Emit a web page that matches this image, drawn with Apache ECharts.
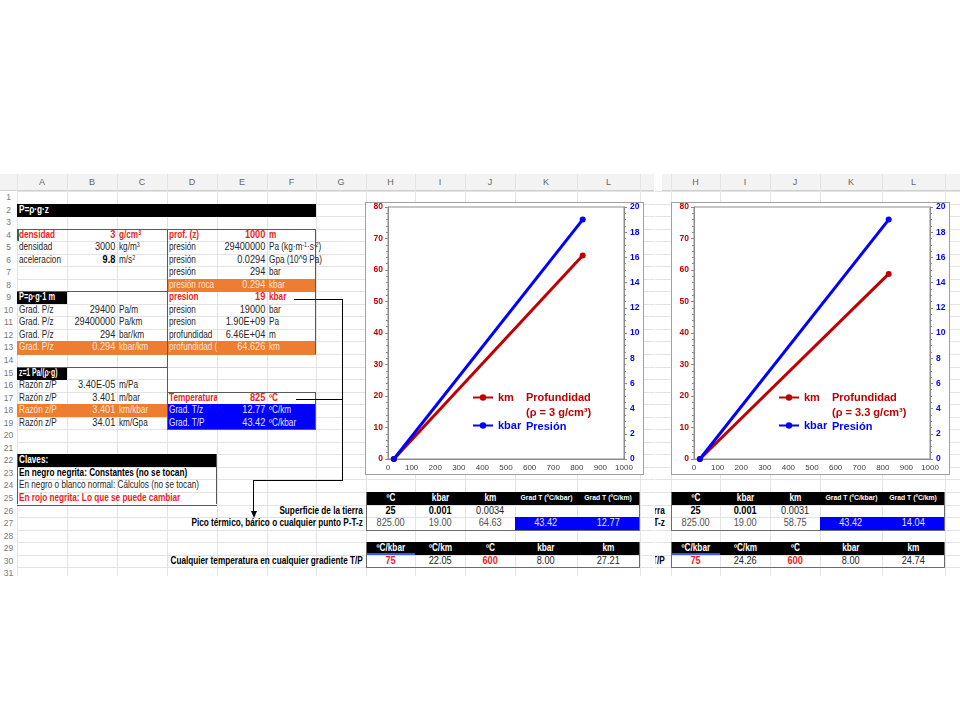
<!DOCTYPE html>
<html><head><meta charset="utf-8">
<script src="https://cdn.jsdelivr.net/npm/echarts@6/dist/echarts.min.js"></script>
<style>
html,body{margin:0;padding:0;background:#fff;width:960px;height:720px;overflow:hidden;}
.sheet{position:absolute;top:174px;height:402px;overflow:hidden;background:#fff;
 font-family:"Liberation Sans",Arial,sans-serif;}
.sheet div{box-sizing:border-box;white-space:nowrap;}
.chart{position:absolute;top:202px;width:279px;height:273px;box-sizing:border-box;border:1px solid #a0a0a0;background:#fff;}
sup{font-size:6.5px;vertical-align:top;line-height:8px;}
</style></head>
<body>
<div id="sheetL" class="sheet" style="left:0;width:654px;"></div>
<div id="sheetR" class="sheet" style="left:655px;width:305px;"></div>
<div id="chartL" class="chart" style="left:365px;"></div>
<div id="chartR" class="chart" style="left:671px;"></div>
<script>
// ---------- chart data ----------
const temperatureC = [25, 825];
const pressureKbar = [0.001, 19.00];
const depthKmRho3 = [0.0034, 64.63];
const depthKmRho33 = [0.0031, 58.75];

// ---------- table data ----------
const head25 = ['ºC', 'kbar', 'km', 'Grad T (ºC/kbar)', 'Grad T (ºC/km)'];
const head29 = ['ºC/kbar', 'ºC/km', 'ºC', 'kbar', 'km'];
const surfaceL = ['25', '0.001', '0.0034'];
const surfaceR = ['25', '0.001', '0.0031'];
const peakL = ['825.00', '19.00', '64.63', '43.42', '12.77'];
const peakR = ['825.00', '19.00', '58.75', '43.42', '14.04'];
const anyL = ['75', '22.05', '600', '8.00', '27.21'];
const anyR = ['75', '24.26', '600', '8.00', '24.74'];

// ---------- geometry ----------
const HDR = 174, ROW0 = 191, RH = 12.54, BOTTOM = 576;
const colEdges = [0, 17, 67, 117, 167, 217, 267, 316, 366, 415, 465, 515, 577, 640, 690, 740];
const colNames = ['', 'A', 'B', 'C', 'D', 'E', 'F', 'G', 'H', 'I', 'J', 'K', 'L', 'M', 'N'];
const rowTop = r => ROW0 + (r - 1) * RH;
const RED = '#EE1C25', ORANGE = '#ED7D31', BLUE = '#0000FF', PALE = '#FCE4D6', LIGHT = '#E4E4FF', TXT = '#262626';
const SQ = 0.82, SQN = 0.92, FS = 10; // narrow spreadsheet font imitation

function buildSheet(el, shift, pageLeft, hdrStart, labelPad, cells, fills, lines) {
  const add = (x, y, w, h, css, html) => {
    const d = document.createElement('div');
    d.style.cssText = `position:absolute;left:${x - pageLeft}px;top:${y - HDR}px;width:${w}px;height:${h}px;` + css;
    if (html != null) d.innerHTML = html;
    el.appendChild(d);
    return d;
  };
  const X = c => colEdges[c] + shift;
  add(hdrStart, HDR, 1400, ROW0 - HDR, 'background:#f3f3f3;border-bottom:1px solid #d0d0d0;');
  for (let c = 1; c < colEdges.length; c++) add(X(c), HDR, 1, BOTTOM - HDR, 'background:#e3e3e3;');
  for (let r = 1; r <= 32; r++) add(X(1), rowTop(r), 1400, 1, 'background:#e3e3e3;');
  for (let c = 1; c < colNames.length; c++) {
    add(X(c), HDR, X(c + 1) - X(c), ROW0 - HDR, 'text-align:center;color:#666;font-size:9px;line-height:17px;', colNames[c]);
  }
  for (let r = 1; r <= 31; r++) {
    add(X(0), rowTop(r), 17, RH, 'text-align:center;color:#777;font-size:8.5px;line-height:12.5px;', String(r));
  }
  fills.forEach(f => {
    add(X(f[1]), rowTop(f[0]), X(f[3] + 1) - X(f[1]), rowTop(f[2] + 1) - rowTop(f[0]) + 0.5, 'background:' + f[4] + ';');
  });
  lines.forEach(l => {
    const w = l[5] || 1;
    if (l[0] === 'h') add(l[1] + shift, l[3], l[2] - l[1], w, 'background:' + l[4] + ';');
    else add(l[1] + shift, l[2], w, l[3] - l[2], 'background:' + l[4] + ';');
  });
  cells.forEach(cl => {
    const [r, c, html, o] = cl;
    const op = o || {};
    const span = op.span || 1;
    const x0 = X(c), x1 = X(c + span);
    let align = op.a || 'left';
    let padR = 2, padL = 2;
    let bx0 = x0, bx1 = x1;
    if (op.ovl) { bx0 = x1 - 400; align = 'right'; padR = labelPad; }
    const numeric = /^[\d.,E+\-]+$/.test(html);
    const sq = op.sq || (numeric ? SQN : SQ);
    const bw = bx1 - bx0;
    const uw = bw / sq;
    let left, origin;
    if (align === 'right') { left = bx1 - uw; origin = 'right'; }
    else if (align === 'center') { left = (bx0 + bx1) / 2 - uw / 2; origin = 'center'; }
    else { left = bx0; origin = 'left'; }
    const css = `text-align:${align};padding:0 ${padR / sq}px 0 ${padL / sq}px;font-size:${op.fs || FS}px;line-height:${RH}px;` +
      `color:${op.col || TXT};font-weight:${op.b ? 'bold' : 'normal'};` +
      `transform:scaleX(${sq});transform-origin:${origin} center;` + (op.clip ? 'overflow:hidden;' : '');
    add(left, rowTop(r), uw, RH, css, html);
  });
}

function tableCells(surface, peak, any) {
  const out = [];
  head25.forEach((t, i) => out.push([25, 8 + i, t, { a: 'center', b: true, col: '#fff', fs: i > 2 ? 8 : FS, sq: i > 2 ? 0.85 : SQ }]));
  out.push([26, 7, 'Superficie de la tierra', { ovl: true, b: true, col: '#000' }]);
  surface.forEach((t, i) => out.push([26, 8 + i, t, { a: 'center', b: i < 2, col: i < 2 ? '#000' : TXT }]));
  out.push([27, 7, 'Pico térmico, bárico o cualquier punto P-T-z', { ovl: true, b: true, col: '#000' }]);
  peak.forEach((t, i) => out.push([27, 8 + i, t, { a: 'center', col: i > 2 ? LIGHT : '#505050' }]));
  head29.forEach((t, i) => out.push([29, 8 + i, t, { a: 'center', b: true, col: '#fff' }]));
  out.push([30, 7, 'Cualquier temperatura en cualquier gradiente T/P', { ovl: true, b: true, col: '#000' }]);
  any.forEach((t, i) => out.push([30, 8 + i, t, { a: 'center', b: (i === 0 || i === 2), col: (i === 0 || i === 2) ? RED : TXT }]));
  return out;
}
const tableFills = [[25, 8, 25, 12, '#000'], [27, 11, 27, 12, BLUE], [29, 8, 29, 12, '#000']];
const tableLines = [
  ['h', 366, 640, rowTop(28), '#6b6b6b'], ['v', 366, rowTop(25), rowTop(28), '#6b6b6b'], ['v', 639, rowTop(25), rowTop(28), '#6b6b6b'],
  ['h', 366, 640, rowTop(31), '#6b6b6b'], ['v', 366, rowTop(29), rowTop(31), '#6b6b6b'], ['v', 639, rowTop(29), rowTop(31), '#6b6b6b'],
  ['h', 367, 415, rowTop(30) - 1.5, '#3355ff', 1.5]
];

// ---------- left sheet content ----------
const R = { col: RED, b: true };
const RR = { col: RED, b: true, a: 'right' };
const P = { col: PALE }, PR = { col: PALE, a: 'right' };
const Lt = { col: LIGHT }, LtR = { col: LIGHT, a: 'right' };
const W = { col: '#fff', b: true };
const Rt = { a: 'right' };
const leftCells = [
  [2, 1, 'P=ρ·g·z', W],
  [4, 1, 'densidad', R], [4, 2, '3', RR], [4, 3, 'g/cm<sup>3</sup>', R], [4, 4, 'prof. (z)', R], [4, 5, '1000', RR], [4, 6, 'm', R],
  [5, 1, 'densidad'], [5, 2, '3000', Rt], [5, 3, 'kg/m<sup>3</sup>'], [5, 4, 'presión'], [5, 5, '29400000', Rt], [5, 6, 'Pa (kg·m<sup>-1</sup>·s<sup>-2</sup>)'],
  [6, 1, 'aceleracion'], [6, 2, '9.8', { a: 'right', b: true, col: '#000' }], [6, 3, 'm/s<sup>2</sup>'], [6, 4, 'presión'], [6, 5, '0.0294', Rt], [6, 6, 'Gpa (10^9 Pa)'],
  [7, 4, 'presión'], [7, 5, '294', Rt], [7, 6, 'bar'],
  [8, 4, 'presión roca', P], [8, 5, '0.294', PR], [8, 6, 'kbar', P],
  [9, 1, 'P=ρ·g·1 m', Object.assign({ sq: 0.74 }, W)], [9, 4, 'presion', R], [9, 5, '19', RR], [9, 6, 'kbar', R],
  [10, 1, 'Grad. P/z'], [10, 2, '29400', Rt], [10, 3, 'Pa/m'], [10, 4, 'presion'], [10, 5, '19000', Rt], [10, 6, 'bar'],
  [11, 1, 'Grad. P/z'], [11, 2, '29400000', Rt], [11, 3, 'Pa/km'], [11, 4, 'presion'], [11, 5, '1.90E+09', Rt], [11, 6, 'Pa'],
  [12, 1, 'Grad. P/z'], [12, 2, '294', Rt], [12, 3, 'bar/km'], [12, 4, 'profundidad'], [12, 5, '6.46E+04', Rt], [12, 6, 'm'],
  [13, 1, 'Grad. P/z', P], [13, 2, '0.294', PR], [13, 3, 'kbar/km', P], [13, 4, 'profundidad (km)', { col: PALE, clip: true }], [13, 5, '64.626', PR], [13, 6, 'km', P],
  [15, 1, 'z=1 Pa/(ρ·g)', Object.assign({ sq: 0.68 }, W)],
  [16, 1, 'Razón z/P'], [16, 2, '3.40E-05', Rt], [16, 3, 'm/Pa'],
  [17, 1, 'Razón z/P'], [17, 2, '3.401', Rt], [17, 3, 'm/bar'], [17, 4, 'Temperatura (ºC)', { col: RED, b: true, clip: true }], [17, 5, '825', RR], [17, 6, 'ºC', R],
  [18, 1, 'Razón z/P', P], [18, 2, '3.401', PR], [18, 3, 'km/kbar', P], [18, 4, 'Grad. T/z', Lt], [18, 5, '12.77', LtR], [18, 6, 'ºC/km', Lt],
  [19, 1, 'Razón z/P'], [19, 2, '34.01', Rt], [19, 3, 'km/Gpa'], [19, 4, 'Grad. T/P', Lt], [19, 5, '43.42', LtR], [19, 6, 'ºC/kbar', Lt],
  [22, 1, 'Claves:', W],
  [23, 1, 'En negro negrita: Constantes (no se tocan)', { b: true, col: '#000' }],
  [24, 1, 'En negro o blanco normal: Cálculos (no se tocan)'],
  [25, 1, 'En rojo negrita: Lo que se puede cambiar', { b: true, col: RED }]
].concat(tableCells(surfaceL, peakL, anyL));

const leftFills = [
  [2, 1, 2, 6, '#000'], [8, 4, 8, 6, ORANGE], [9, 1, 9, 1, '#000'], [13, 1, 13, 6, ORANGE], [15, 1, 15, 1, '#000'],
  [18, 1, 18, 3, ORANGE], [18, 4, 19, 6, BLUE], [22, 1, 22, 4, '#000']
].concat(tableFills);

const G = '#5a5a5a';
const leftLines = [
  ['h', 17, 316, rowTop(4), G], ['v', 167, rowTop(4), rowTop(20), G], ['v', 315, rowTop(4), rowTop(14), G],
  ['h', 17, 167, rowTop(9), G], ['h', 17, 167, rowTop(15), G],
  ['h', 167, 316, rowTop(17), G], ['v', 315, rowTop(17), rowTop(20), G], ['h', 167, 316, rowTop(20), G],
  ['h', 17, 217, rowTop(26), G], ['v', 17, rowTop(22), rowTop(26), G], ['v', 216, rowTop(22), rowTop(26), G],
  ['v', 17, rowTop(4), rowTop(5), '#217346', 2],
  ['h', 294, 343, 299, '#000', 1.2], ['h', 296, 343, 399, '#000', 1.2], ['v', 342, 299, 481, '#000', 1.2],
  ['h', 253, 343, 480, '#000', 1.2], ['v', 253, 480, 513, '#000', 1.2]
].concat(tableLines);

buildSheet(document.getElementById('sheetL'), 0, 0, 0, 3, leftCells, leftFills, leftLines);
(function () {
  const d = document.createElement('div');
  d.style.cssText = 'position:absolute;left:250.6px;top:' + (511 - HDR) + 'px;width:0;height:0;border-left:3px solid transparent;border-right:3px solid transparent;border-top:7px solid #000;box-sizing:content-box;';
  document.getElementById('sheetL').appendChild(d);
})();

// ---------- right sheet (only columns G..M visible) ----------
buildSheet(document.getElementById('sheetR'), 305, 655, 662, 6, tableCells(surfaceR, peakR, anyR), tableFills, tableLines);

// ---------- charts ----------
const CRED = '#C00000', CBLUE = '#0000FF', AX = '#8c8c8c';
const FONT = '"Liberation Sans", Arial, sans-serif';
function makeChart(el, kmValues, rhoText) {
  const chart = echarts.init(el, null, { renderer: 'canvas' });
  const kmData = temperatureC.map((t, i) => [t, kmValues[i]]);
  const kbData = temperatureC.map((t, i) => [t, pressureKbar[i]]);
  const yCommon = {
    type: 'value', splitLine: { show: false },
    axisLine: { show: true, lineStyle: { color: AX } },
    axisTick: { show: true, length: 3, lineStyle: { color: AX } }
  };
  chart.setOption({
    animation: false,
    textStyle: { fontFamily: FONT },
    grid: { left: 22, right: 19, top: 4, bottom: 15, show: true, borderColor: AX, borderWidth: 1, containLabel: false, outerBoundsMode: 'none' },
    xAxis: {
      type: 'value', min: 0, max: 1000, interval: 100,
      axisLine: { show: true, onZero: false, lineStyle: { color: AX } },
      axisTick: { show: false }, splitLine: { show: false },
      axisLabel: { color: '#404040', fontSize: 8, margin: 5, formatter: v => String(v) }
    },
    yAxis: [
      Object.assign({}, yCommon, {
        min: 0, max: 80, interval: 10, position: 'left',
        minorTick: { show: true, splitNumber: 5, length: 2, lineStyle: { color: AX } },
        axisLabel: { color: CRED, fontWeight: 'bold', fontSize: 8.5, margin: 5 }
      }),
      Object.assign({}, yCommon, {
        min: 0, max: 20, interval: 2, position: 'right',
        minorTick: { show: true, splitNumber: 4, length: 2, lineStyle: { color: AX } },
        axisLabel: { color: CBLUE, fontWeight: 'bold', fontSize: 8.5, margin: 6 }
      })
    ],
    legend: {
      orient: 'vertical', left: 106, top: 189, padding: 0, itemWidth: 20, itemHeight: 8, itemGap: 17,
      textStyle: { fontSize: 11, fontWeight: 'bold', fontFamily: FONT },
      data: [{ name: 'km', textStyle: { color: CRED } }, { name: 'kbar', textStyle: { color: CBLUE } }]
    },
    graphic: [
      { type: 'text', left: 160, top: 189, style: { text: 'Profundidad', fill: CRED, font: 'bold 11px ' + FONT } },
      { type: 'text', left: 160, top: 204, style: { text: rhoText, fill: CRED, font: 'bold 11px ' + FONT } },
      { type: 'text', left: 160, top: 218, style: { text: 'Presión', fill: CBLUE, font: 'bold 11px ' + FONT } }
    ],
    series: [
      { name: 'km', type: 'line', yAxisIndex: 0, data: kmData, symbol: 'circle', symbolSize: 6,
        lineStyle: { width: 3, color: CRED }, itemStyle: { color: CRED } },
      { name: 'kbar', type: 'line', yAxisIndex: 1, data: kbData, symbol: 'circle', symbolSize: 6,
        lineStyle: { width: 3, color: CBLUE }, itemStyle: { color: CBLUE } }
    ]
  });
}
makeChart(document.getElementById('chartL'), depthKmRho3, '(ρ = 3 g/cm³)');
makeChart(document.getElementById('chartR'), depthKmRho33, '(ρ = 3.3 g/cm³)');
</script>
</body></html>
